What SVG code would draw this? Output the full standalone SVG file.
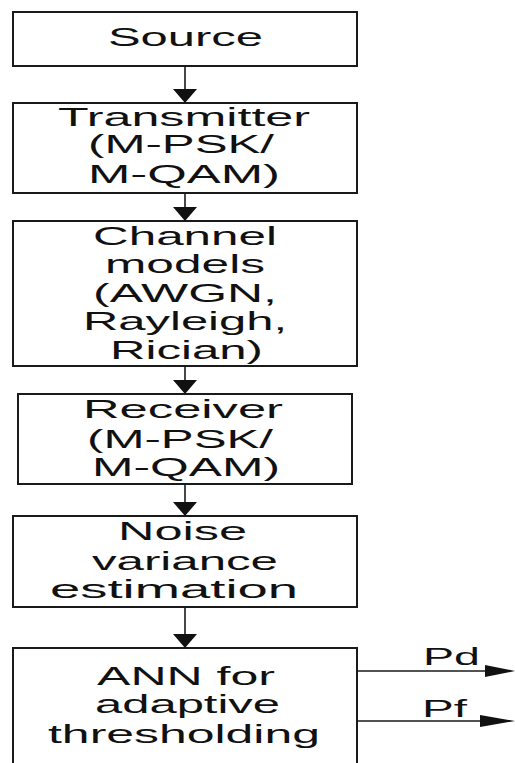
<svg xmlns="http://www.w3.org/2000/svg" width="515" height="763" viewBox="0 0 515 763">
  <style>
    .box { fill: #ffffff; stroke: #1a1a1a; stroke-width: 2; }
    .lbl { font-family: "Liberation Sans", Arial, sans-serif; font-size: 26px; fill: #111111; }
    .out { font-family: "Liberation Sans", Arial, sans-serif; font-size: 23px; fill: #111111; }
    .wire { stroke: #1a1a1a; stroke-width: 1.6; fill: none; }
    .head { fill: #111111; stroke: none; }
  </style>
  <rect width="515" height="763" fill="#ffffff"/>

  <g id="source">
    <rect class="box" x="13" y="12" width="344" height="54"/>
    <text class="lbl" x="108" y="46" textLength="155" lengthAdjust="spacingAndGlyphs">Source</text>
  </g>

  <g id="transmitter">
    <rect class="box" x="13" y="103" width="344" height="90"/>
    <text class="lbl" x="58" y="126" textLength="252" lengthAdjust="spacingAndGlyphs">Transmitter</text>
    <text class="lbl" x="88" y="153" textLength="186" lengthAdjust="spacingAndGlyphs">(M-PSK/</text>
    <text class="lbl" x="88" y="183" textLength="192" lengthAdjust="spacingAndGlyphs">M-QAM)</text>
  </g>

  <g id="channel">
    <rect class="box" x="13" y="221" width="344" height="145"/>
    <text class="lbl" x="93" y="245" textLength="184" lengthAdjust="spacingAndGlyphs">Channel</text>
    <text class="lbl" x="105" y="273" textLength="160" lengthAdjust="spacingAndGlyphs">models</text>
    <text class="lbl" x="93" y="302" textLength="184" lengthAdjust="spacingAndGlyphs">(AWGN,</text>
    <text class="lbl" x="83" y="330" textLength="204" lengthAdjust="spacingAndGlyphs">Rayleigh,</text>
    <text class="lbl" x="110" y="359" textLength="153" lengthAdjust="spacingAndGlyphs">Rician)</text>
  </g>

  <g id="receiver">
    <rect class="box" x="18" y="394" width="334" height="90"/>
    <text class="lbl" x="83" y="418" textLength="200" lengthAdjust="spacingAndGlyphs">Receiver</text>
    <text class="lbl" x="87" y="448" textLength="186" lengthAdjust="spacingAndGlyphs">(M-PSK/</text>
    <text class="lbl" x="92" y="476" textLength="188" lengthAdjust="spacingAndGlyphs">M-QAM)</text>
  </g>

  <g id="noise-estimation">
    <rect class="box" x="13" y="516" width="344" height="91"/>
    <text class="lbl" x="118" y="540" textLength="129" lengthAdjust="spacingAndGlyphs">Noise</text>
    <text class="lbl" x="92" y="570" textLength="186" lengthAdjust="spacingAndGlyphs">variance</text>
    <text class="lbl" x="50" y="598" textLength="248" lengthAdjust="spacingAndGlyphs">estimation</text>
  </g>

  <g id="ann">
    <rect class="box" x="13" y="648" width="344" height="130"/>
    <text class="lbl" x="97" y="685" textLength="178" lengthAdjust="spacingAndGlyphs">ANN for</text>
    <text class="lbl" x="95" y="713" textLength="185" lengthAdjust="spacingAndGlyphs">adaptive</text>
    <text class="lbl" x="48" y="743" textLength="272" lengthAdjust="spacingAndGlyphs">thresholding</text>
  </g>

  <g id="connectors">
    <line class="wire" x1="185" y1="66" x2="185" y2="90"/>
    <polygon class="head" points="173,89 197,89 185,103"/>
    <line class="wire" x1="185" y1="193" x2="185" y2="208"/>
    <polygon class="head" points="173,207 197,207 185,221"/>
    <line class="wire" x1="185" y1="366" x2="185" y2="381"/>
    <polygon class="head" points="173,380 197,380 185,394"/>
    <line class="wire" x1="185" y1="484" x2="185" y2="503"/>
    <polygon class="head" points="173,502 197,502 185,516"/>
    <line class="wire" x1="185" y1="607" x2="185" y2="635"/>
    <polygon class="head" points="173,634 197,634 185,648"/>

    <line class="wire" x1="357" y1="671" x2="487" y2="671"/>
    <polygon class="head" points="485,665 515,671 485,677"/>
    <text class="out" x="423" y="665" textLength="57" lengthAdjust="spacingAndGlyphs">Pd</text>

    <line class="wire" x1="357" y1="721" x2="482" y2="721"/>
    <polygon class="head" points="480,715 515,721 480,727"/>
    <text class="out" x="422" y="717" textLength="45" lengthAdjust="spacingAndGlyphs">Pf</text>
  </g>
</svg>
